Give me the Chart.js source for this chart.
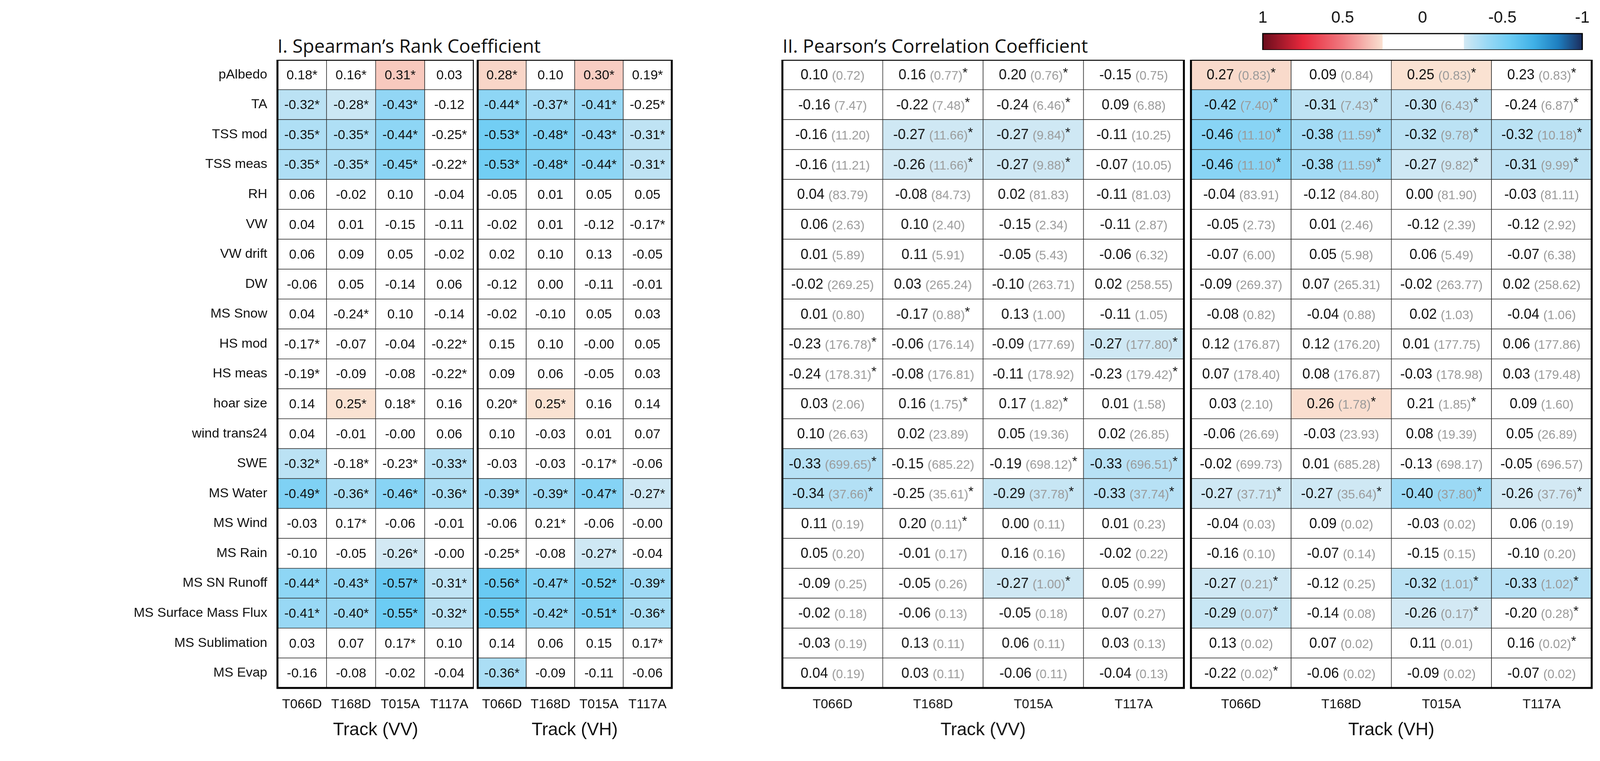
<!DOCTYPE html>
<html>
<head>
<meta charset="utf-8">
<script src="https://cdn.jsdelivr.net/npm/chart.js@4"></script>
<style>
  body { margin: 0; background: #fff; height: 1948px; position: relative; overflow: hidden; }
  .box { position: absolute; }
  .ttl { position: absolute; font-family: "Open Sans", "Liberation Sans", sans-serif; font-size: 48px; color: #111; white-space: nowrap; top: 84px; }
</style>
</head>
<body>
<div class="ttl" id="t1">I. Spearman’s Rank Coefficient</div>
<div class="ttl" id="t2">II. Pearson’s Correlation Coefficient</div>
<div class="box" id="b1"><canvas id="c1"></canvas></div>
<div class="box" id="b2"><canvas id="c2"></canvas></div>
<div class="box" id="b3"><canvas id="c3"></canvas></div>
<div class="box" id="b4"><canvas id="c4"></canvas></div>
<div class="box" id="bb"><canvas id="cb"></canvas></div>
<script>
const rows = ['pAlbedo', 'TA', 'TSS mod', 'TSS meas', 'RH', 'VW', 'VW drift', 'DW', 'MS Snow', 'HS mod', 'HS meas',
  'hoar size', 'wind trans24', 'SWE', 'MS Water', 'MS Wind', 'MS Rain', 'MS SN Runoff', 'MS Surface Mass Flux',
  'MS Sublimation', 'MS Evap'];
const tracks = ['T066D', 'T168D', 'T015A', 'T117A'];

// Spearman, VV
const spearVV = [
  ['0.18*', '0.16*', '0.31*', '0.03'], ['-0.32*', '-0.28*', '-0.43*', '-0.12'], ['-0.35*', '-0.35*', '-0.44*', '-0.25*'],
  ['-0.35*', '-0.35*', '-0.45*', '-0.22*'], ['0.06', '-0.02', '0.10', '-0.04'], ['0.04', '0.01', '-0.15', '-0.11'],
  ['0.06', '0.09', '0.05', '-0.02'], ['-0.06', '0.05', '-0.14', '0.06'], ['0.04', '-0.24*', '0.10', '-0.14'],
  ['-0.17*', '-0.07', '-0.04', '-0.22*'], ['-0.19*', '-0.09', '-0.08', '-0.22*'], ['0.14', '0.25*', '0.18*', '0.16'],
  ['0.04', '-0.01', '-0.00', '0.06'], ['-0.32*', '-0.18*', '-0.23*', '-0.33*'], ['-0.49*', '-0.36*', '-0.46*', '-0.36*'],
  ['-0.03', '0.17*', '-0.06', '-0.01'], ['-0.10', '-0.05', '-0.26*', '-0.00'], ['-0.44*', '-0.43*', '-0.57*', '-0.31*'],
  ['-0.41*', '-0.40*', '-0.55*', '-0.32*'], ['0.03', '0.07', '0.17*', '0.10'], ['-0.16', '-0.08', '-0.02', '-0.04']
];
// Spearman, VH
const spearVH = [
  ['0.28*', '0.10', '0.30*', '0.19*'], ['-0.44*', '-0.37*', '-0.41*', '-0.25*'], ['-0.53*', '-0.48*', '-0.43*', '-0.31*'],
  ['-0.53*', '-0.48*', '-0.44*', '-0.31*'], ['-0.05', '0.01', '0.05', '0.05'], ['-0.02', '0.01', '-0.12', '-0.17*'],
  ['0.02', '0.10', '0.13', '-0.05'], ['-0.12', '0.00', '-0.11', '-0.01'], ['-0.02', '-0.10', '0.05', '0.03'],
  ['0.15', '0.10', '-0.00', '0.05'], ['0.09', '0.06', '-0.05', '0.03'], ['0.20*', '0.25*', '0.16', '0.14'],
  ['0.10', '-0.03', '0.01', '0.07'], ['-0.03', '-0.03', '-0.17*', '-0.06'], ['-0.39*', '-0.39*', '-0.47*', '-0.27*'],
  ['-0.06', '0.21*', '-0.06', '-0.00'], ['-0.25*', '-0.08', '-0.27*', '-0.04'], ['-0.56*', '-0.47*', '-0.52*', '-0.39*'],
  ['-0.55*', '-0.42*', '-0.51*', '-0.36*'], ['0.14', '0.06', '0.15', '0.17*'], ['-0.36*', '-0.09', '-0.11', '-0.06']
];
// Pearson, VV: "value|(bracket)|star"
const pearVV = [
  ['0.10|0.72|', '0.16|0.77|*', '0.20|0.76|*', '-0.15|0.75|'],
  ['-0.16|7.47|', '-0.22|7.48|*', '-0.24|6.46|*', '0.09|6.88|'],
  ['-0.16|11.20|', '-0.27|11.66|*', '-0.27|9.84|*', '-0.11|10.25|'],
  ['-0.16|11.21|', '-0.26|11.66|*', '-0.27|9.88|*', '-0.07|10.05|'],
  ['0.04|83.79|', '-0.08|84.73|', '0.02|81.83|', '-0.11|81.03|'],
  ['0.06|2.63|', '0.10|2.40|', '-0.15|2.34|', '-0.11|2.87|'],
  ['0.01|5.89|', '0.11|5.91|', '-0.05|5.43|', '-0.06|6.32|'],
  ['-0.02|269.25|', '0.03|265.24|', '-0.10|263.71|', '0.02|258.55|'],
  ['0.01|0.80|', '-0.17|0.88|*', '0.13|1.00|', '-0.11|1.05|'],
  ['-0.23|176.78|*', '-0.06|176.14|', '-0.09|177.69|', '-0.27|177.80|*'],
  ['-0.24|178.31|*', '-0.08|176.81|', '-0.11|178.92|', '-0.23|179.42|*'],
  ['0.03|2.06|', '0.16|1.75|*', '0.17|1.82|*', '0.01|1.58|'],
  ['0.10|26.63|', '0.02|23.89|', '0.05|19.36|', '0.02|26.85|'],
  ['-0.33|699.65|*', '-0.15|685.22|', '-0.19|698.12|*', '-0.33|696.51|*'],
  ['-0.34|37.66|*', '-0.25|35.61|*', '-0.29|37.78|*', '-0.33|37.74|*'],
  ['0.11|0.19|', '0.20|0.11|*', '0.00|0.11|', '0.01|0.23|'],
  ['0.05|0.20|', '-0.01|0.17|', '0.16|0.16|', '-0.02|0.22|'],
  ['-0.09|0.25|', '-0.05|0.26|', '-0.27|1.00|*', '0.05|0.99|'],
  ['-0.02|0.18|', '-0.06|0.13|', '-0.05|0.18|', '0.07|0.27|'],
  ['-0.03|0.19|', '0.13|0.11|', '0.06|0.11|', '0.03|0.13|'],
  ['0.04|0.19|', '0.03|0.11|', '-0.06|0.11|', '-0.04|0.13|']
];
// Pearson, VH
const pearVH = [
  ['0.27|0.83|*', '0.09|0.84|', '0.25|0.83|*', '0.23|0.83|*'],
  ['-0.42|7.40|*', '-0.31|7.43|*', '-0.30|6.43|*', '-0.24|6.87|*'],
  ['-0.46|11.10|*', '-0.38|11.59|*', '-0.32|9.78|*', '-0.32|10.18|*'],
  ['-0.46|11.10|*', '-0.38|11.59|*', '-0.27|9.82|*', '-0.31|9.99|*'],
  ['-0.04|83.91|', '-0.12|84.80|', '0.00|81.90|', '-0.03|81.11|'],
  ['-0.05|2.73|', '0.01|2.46|', '-0.12|2.39|', '-0.12|2.92|'],
  ['-0.07|6.00|', '0.05|5.98|', '0.06|5.49|', '-0.07|6.38|'],
  ['-0.09|269.37|', '0.07|265.31|', '-0.02|263.77|', '0.02|258.62|'],
  ['-0.08|0.82|', '-0.04|0.88|', '0.02|1.03|', '-0.04|1.06|'],
  ['0.12|176.87|', '0.12|176.20|', '0.01|177.75|', '0.06|177.86|'],
  ['0.07|178.40|', '0.08|176.87|', '-0.03|178.98|', '0.03|179.48|'],
  ['0.03|2.10|', '0.26|1.78|*', '0.21|1.85|*', '0.09|1.60|'],
  ['-0.06|26.69|', '-0.03|23.93|', '0.08|19.39|', '0.05|26.89|'],
  ['-0.02|699.73|', '0.01|685.28|', '-0.13|698.17|', '-0.05|696.57|'],
  ['-0.27|37.71|*', '-0.27|35.64|*', '-0.40|37.80|*', '-0.26|37.76|*'],
  ['-0.04|0.03|', '0.09|0.02|', '-0.03|0.02|', '0.06|0.19|'],
  ['-0.16|0.10|', '-0.07|0.14|', '-0.15|0.15|', '-0.10|0.20|'],
  ['-0.27|0.21|*', '-0.12|0.25|', '-0.32|1.01|*', '-0.33|1.02|*'],
  ['-0.29|0.07|*', '-0.14|0.08|', '-0.26|0.17|*', '-0.20|0.28|*'],
  ['0.13|0.02|', '0.07|0.02|', '0.11|0.01|', '0.16|0.02|*'],
  ['-0.22|0.02|*', '-0.06|0.02|', '-0.09|0.02|', '-0.07|0.02|']
];
const cbTicks = [1, 0.5, 0, -0.5, -1];

const posStops = [[0.25, [250, 226, 210]], [0.5, [240, 122, 128]], [0.75, [232, 40, 60]], [1, [106, 13, 28]]];
const negStops = [[0.26, [211, 233, 244]], [0.4, [155, 217, 245]], [0.55, [108, 204, 244]], [0.7, [63, 176, 230]],
  [0.85, [30, 127, 192]], [1, [27, 44, 92]]];

function colour(v) {
  let stops;
  if (v >= 0.25) stops = posStops;
  else if (v <= -0.26) stops = negStops;
  else return '#ffffff';
  const a = Math.min(Math.abs(v), 1);
  for (let i = 0; i < stops.length - 1; i++) {
    const [a0, c0] = stops[i], [a1, c1] = stops[i + 1];
    if (a <= a1) {
      const t = Math.max(0, (a - a0) / (a1 - a0));
      const c = c0.map((x, k) => Math.round(x + (c1[k] - x) * t));
      return 'rgb(' + c.join(',') + ')';
    }
  }
  return 'rgb(' + stops[stops.length - 1][1].join(',') + ')';
}

// horizontal layout is given for a 4204 px wide page and scaled to the real window width
const K = (window.innerWidth || 4204) / 4204;
function place(id, left, top, width, height) {
  const el = document.getElementById(id);
  el.style.left = (left * K) + 'px';
  el.style.width = (width * K) + 'px';
  if (top !== null) el.style.top = top + 'px';
  if (height !== null) el.style.height = height + 'px';
}
place('t1', 729, null, 1000, null);
place('t2', 2056, null, 1200, null);
place('b1', 0, 153, 1245, 1748);
place('b2', 1250, 153, 520, 1748);
place('b3', 2050, 153, 1066, 1748);
place('b4', 3123, 153, 1065, 1748);
place('bb', 3300, 20, 882, 108);

const FONT = '"Liberation Sans", Arial, sans-serif';
const NARROW = '"Liberation Sans Narrow", "Liberation Sans", Arial, sans-serif';

const cellPlugin = {
  id: 'cells',
  beforeDatasetsDraw(chart) {
    const { ctx, chartArea: a, scales: { x, y } } = chart;
    const tbl = chart.options.plugins.cells.table;
    const pear = chart.options.plugins.cells.pearson;
    const cw = (a.right - a.left) / tracks.length;
    const ch = (a.bottom - a.top) / rows.length;
    ctx.save();
    rows.forEach((r, i) => {
      tracks.forEach((t, j) => {
        const cx = x.getPixelForValue(j), cy = y.getPixelForValue(i);
        const parts = tbl[i][j].split('|');
        const v = parseFloat(parts[0]);
        ctx.fillStyle = colour(v);
        ctx.fillRect(cx - cw / 2, cy - ch / 2, cw, ch);
        ctx.strokeStyle = '#333';
        ctx.lineWidth = 1.5;
        ctx.strokeRect(cx - cw / 2, cy - ch / 2, cw, ch);
        ctx.textBaseline = 'middle';
        if (!pear) {
          ctx.font = '34px ' + FONT;
          ctx.fillStyle = '#111';
          ctx.textAlign = 'center';
          ctx.fillText(parts[0], cx, cy + 2);
        } else {
          const f1 = '36px ' + NARROW, f2 = '32px ' + NARROW;
          ctx.font = f1; const w1 = ctx.measureText(parts[0] + ' ').width;
          ctx.font = f2; const w2 = ctx.measureText('(' + parts[1] + ')').width;
          const w3 = parts[2] ? ctx.measureText('*').width : 0;
          const sx = cx - (w1 + w2 + w3) / 2;
          ctx.textAlign = 'left';
          ctx.font = f1; ctx.fillStyle = '#111'; ctx.fillText(parts[0], sx, cy + 2);
          ctx.font = f2; ctx.fillStyle = '#9a9a9a'; ctx.fillText('(' + parts[1] + ')', sx + w1, cy + 4);
          if (parts[2]) { ctx.fillStyle = '#111'; ctx.font = '34px ' + NARROW; ctx.fillText('*', sx + w1 + w2, cy - 4); }
        }
      });
    });
    ctx.strokeStyle = '#000';
    ctx.lineWidth = 5;
    ctx.strokeRect(a.left, a.top, a.right - a.left, a.bottom - a.top);
    ctx.restore();
  }
};

function makePanel(id, table, pearson, title, showRows, pad) {
  new Chart(document.getElementById(id), {
    type: 'scatter',
    data: { datasets: [{ data: [], pointRadius: 0 }] },
    plugins: [cellPlugin],
    options: {
      responsive: true, maintainAspectRatio: false, animation: false,
      layout: { padding: { left: pad * K, right: pad * K, top: 0, bottom: 0 } },
      plugins: { legend: { display: false }, tooltip: { enabled: false }, cells: { table: table, pearson: pearson } },
      scales: {
        x: {
          type: 'category', labels: tracks, offset: true,
          grid: { display: false, drawTicks: true }, border: { display: false },
          ticks: { color: '#111', font: { family: FONT, size: 34 }, padding: 14, maxRotation: 0, autoSkip: false },
          title: { display: true, text: title, color: '#111', font: { family: FONT, size: 46 }, padding: { top: 4 } },
          afterFit: s => { s.height = 140; s.paddingLeft = 0; s.paddingRight = 0; }
        },
        y: {
          type: 'category', labels: rows, offset: true, display: showRows,
          grid: { display: false }, border: { display: false },
          ticks: { color: '#111', font: { family: FONT, size: 34 }, padding: 18 },
          afterFit: s => { s.width = showRows ? 729 * K : 0; s.paddingTop = 0; s.paddingBottom = 0; }
        }
      }
    }
  });
}

makePanel('c1', spearVV, false, 'Track (VV)', true, 0);
makePanel('c2', spearVH, false, 'Track (VH)', false, 5);
makePanel('c3', pearVV, true, 'Track (VV)', false, 6);
makePanel('c4', pearVH, true, 'Track (VH)', false, 6);

// colour bar
new Chart(document.getElementById('cb'), {
  type: 'scatter',
  data: { datasets: [{ data: [], pointRadius: 0 }] },
  plugins: [{
    id: 'bar',
    beforeDatasetsDraw(chart) {
      const { ctx, chartArea: a, scales: { x } } = chart;
      ctx.save();
      for (let px = Math.floor(a.left); px < a.right; px++) {
        ctx.fillStyle = colour(x.getValueForPixel(px + 0.5));
        ctx.fillRect(px, a.top, 1.5, a.bottom - a.top);
      }
      ctx.strokeStyle = '#000'; ctx.lineWidth = 3;
      ctx.strokeRect(a.left, a.top, a.right - a.left, a.bottom - a.top);
      ctx.restore();
    }
  }],
  options: {
    responsive: true, maintainAspectRatio: false, animation: false,
    layout: { padding: { left: 15 * K, right: 15 * K, top: 0, bottom: 0 } },
    plugins: { legend: { display: false }, tooltip: { enabled: false } },
    scales: {
      x: {
        type: 'linear', position: 'top', min: -1, max: 1, reverse: true,
        afterBuildTicks: s => { s.ticks = cbTicks.map(v => ({ value: v })); },
        grid: { display: false, drawTicks: true, tickLength: 8, color: '#000' }, border: { display: false },
        ticks: { color: '#111', font: { family: FONT, size: 42 }, padding: 6, maxRotation: 0,
          callback: v => String(v) },
        afterFit: s => { s.height = 66; }
      },
      y: { display: false, min: 0, max: 1 }
    }
  }
});
</script>
</body>
</html>
